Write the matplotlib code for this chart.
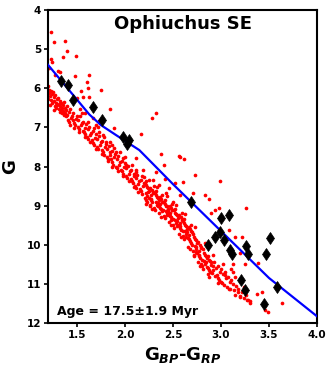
import matplotlib
matplotlib.use("Agg")
import matplotlib.pyplot as plt

# ---- red points: Gaia colour (BP-RP) and G magnitude ----
red_x = [
    1.205, 1.21, 1.215, 1.22, 1.205, 1.23, 1.235, 1.24, 1.245, 1.225,
    1.255, 1.26, 1.265, 1.27, 1.275, 1.28, 1.285, 1.29, 1.295, 1.26,
    1.305, 1.31, 1.315, 1.32, 1.325, 1.33, 1.335, 1.34, 1.345, 1.35,
    1.355, 1.36, 1.365, 1.37, 1.375, 1.38, 1.385, 1.39, 1.395, 1.40,
    1.41, 1.415, 1.42, 1.43, 1.44, 1.45,
    1.46, 1.465, 1.47, 1.48, 1.49, 1.50,
    1.51, 1.515, 1.52, 1.53, 1.54, 1.55,
    1.56, 1.565, 1.57, 1.58, 1.59, 1.60,
    1.61, 1.615, 1.62, 1.63, 1.64, 1.65,
    1.66, 1.665, 1.67, 1.68, 1.69, 1.70,
    1.71, 1.715, 1.72, 1.73, 1.74, 1.75,
    1.76, 1.765, 1.77, 1.78, 1.79, 1.80,
    1.81, 1.815, 1.82, 1.83, 1.84, 1.85,
    1.86, 1.865, 1.87, 1.88, 1.89, 1.90,
    1.91, 1.915, 1.92, 1.93, 1.94, 1.95,
    1.96, 1.965, 1.97, 1.98, 1.99, 2.00,
    2.01, 2.015, 2.02, 2.03, 2.04, 2.05,
    2.06, 2.065, 2.07, 2.08, 2.09, 2.10,
    2.11, 2.115, 2.12, 2.13, 2.14, 2.15,
    2.16, 2.165, 2.17, 2.18, 2.19, 2.20,
    2.205, 2.21, 2.215, 2.22, 2.225, 2.23, 2.235, 2.24, 2.245, 2.25, 2.23, 2.215,
    2.255, 2.26, 2.265, 2.27, 2.275, 2.28, 2.285, 2.29, 2.295, 2.30, 2.27, 2.26,
    2.305, 2.31, 2.315, 2.32, 2.325, 2.33, 2.335, 2.34, 2.345, 2.35, 2.32, 2.34,
    2.355, 2.36, 2.365, 2.37, 2.375, 2.38, 2.385, 2.39, 2.395, 2.40, 2.37, 2.39,
    2.405, 2.41, 2.415, 2.42, 2.425, 2.43, 2.435, 2.44, 2.445, 2.45, 2.42, 2.44,
    2.455, 2.46, 2.465, 2.47, 2.475, 2.48, 2.485, 2.49, 2.495, 2.50, 2.47, 2.49,
    2.505, 2.51, 2.515, 2.52, 2.525, 2.53, 2.535, 2.54, 2.545, 2.55, 2.52, 2.54,
    2.555, 2.56, 2.565, 2.57, 2.575, 2.58, 2.585, 2.59, 2.595, 2.60, 2.57, 2.59,
    2.605, 2.61, 2.615, 2.62, 2.625, 2.63, 2.635, 2.64, 2.645, 2.65, 2.62, 2.64,
    2.655, 2.66, 2.665, 2.67, 2.675, 2.68, 2.685, 2.69, 2.695, 2.70, 2.67, 2.69,
    2.705, 2.71, 2.715, 2.72, 2.725, 2.73, 2.735, 2.74, 2.745, 2.75, 2.72, 2.74,
    2.755, 2.76, 2.765, 2.77, 2.775, 2.78, 2.785, 2.79, 2.795, 2.80, 2.77, 2.79,
    2.805, 2.81, 2.815, 2.82, 2.825, 2.83, 2.835, 2.84, 2.845, 2.85,
    2.855, 2.86, 2.865, 2.87, 2.875, 2.88, 2.885, 2.89, 2.895, 2.90,
    2.91, 2.915, 2.92, 2.93, 2.94, 2.95,
    2.96, 2.965, 2.97, 2.98, 2.99, 3.00,
    3.01, 3.02, 3.03, 3.04, 3.05,
    3.06, 3.07, 3.08, 3.09, 3.10,
    3.12, 3.14, 3.16, 3.18, 3.20,
    3.22, 3.24, 3.26, 3.28, 3.30,
    # band edges
    1.43, 1.47, 1.52, 1.55, 1.58, 1.62, 1.64, 1.68, 1.70, 1.73,
    1.76, 1.78, 1.82, 1.84, 1.87, 1.89, 1.93, 1.95, 1.98, 2.00,
    2.04, 2.07, 2.09, 2.12, 2.14, 2.18, 2.22, 2.25, 2.28, 2.33,
    2.38, 2.44, 2.48, 2.53, 2.58, 2.63, 2.68, 2.73, 2.78, 2.83,
    2.88, 2.92, 2.97, 3.02,
    # scattered stars above the band
    1.23, 1.266, 1.377, 1.394, 1.353, 1.49, 1.23, 1.24, 1.21, 1.30,
    1.325, 1.276, 1.485, 1.63, 1.61, 1.62, 1.75, 1.54, 1.56, 1.50,
    1.63, 1.84, 1.53, 1.58, 2.32, 2.28, 2.17, 1.89, 1.73, 1.72,
    2.38, 2.12, 2.41, 2.57, 2.52, 2.568, 2.617, 2.73, 2.60, 2.99,
    2.42, 2.325, 2.714, 2.88, 2.835, 3.26, 2.90, 2.94, 2.975, 3.08,
    3.15, 3.22, 3.27, 3.20, 3.39, 3.25, 3.13, 3.10, 3.12, 3.15,
    3.20, 3.235, 3.095, 3.18, 3.15, 3.20, 3.27, 3.30, 3.38, 3.43,
    3.46, 3.485, 3.63, 3.00, 3.04,
    1.665, 1.70, 1.77, 1.80, 1.87, 1.91, 1.98, 2.01, 2.117, 2.186,
    2.20, 2.29, 2.36, 2.46, 2.43, 2.50, 2.57,
]
red_g = [
    5.95, 6.05, 6.12, 6.20, 6.28, 6.08, 6.30, 6.15, 6.38, 6.42,
    6.10, 6.22, 6.33, 6.45, 6.18, 6.38, 6.50, 6.28, 6.42, 6.55,
    6.25, 6.40, 6.52, 6.33, 6.60, 6.45, 6.55, 6.38, 6.62, 6.50,
    6.42, 6.58, 6.68, 6.35, 6.50, 6.62, 6.72, 6.55, 6.45, 6.68,
    6.80, 6.60, 6.85, 6.52, 6.75, 6.70,
    6.82, 6.62, 6.90, 6.95, 6.78, 6.70,
    7.00, 6.80, 7.05, 6.72, 6.95, 6.88,
    7.08, 6.85, 7.12, 7.18, 7.02, 6.92,
    7.25, 7.05, 7.30, 6.98, 7.20, 7.15,
    7.33, 7.10, 7.40, 7.45, 7.28, 7.18,
    7.50, 7.30, 7.55, 7.22, 7.45, 7.38,
    7.58, 7.35, 7.62, 7.70, 7.50, 7.42,
    7.75, 7.55, 7.80, 7.48, 7.70, 7.62,
    7.82, 7.60, 7.88, 7.95, 7.75, 7.68,
    8.00, 7.80, 8.05, 7.72, 7.95, 7.88,
    8.08, 7.85, 8.12, 8.18, 8.00, 7.92,
    8.25, 8.05, 8.30, 7.98, 8.20, 8.12,
    8.32, 8.10, 8.38, 8.42, 8.25, 8.18,
    8.50, 8.30, 8.55, 8.22, 8.45, 8.38,
    8.58, 8.35, 8.62, 8.70, 8.50, 8.42,
    8.80, 8.42, 8.85, 8.48, 8.68, 8.52, 8.75, 8.55, 8.66, 8.62, 8.90, 8.38,
    8.80, 8.98, 8.55, 8.82, 8.86, 8.60, 8.92, 8.65, 8.68, 8.50, 8.74, 9.02,
    9.05, 8.68, 9.10, 8.72, 8.92, 8.78, 8.98, 8.80, 8.94, 8.86, 8.62, 9.00,
    9.02, 9.20, 8.78, 9.05, 9.08, 8.84, 9.15, 8.90, 8.90, 9.12, 8.96, 8.72,
    9.26, 8.90, 9.32, 8.96, 9.14, 9.00, 9.20, 9.02, 9.15, 9.08, 8.85, 9.25,
    9.25, 9.42, 9.00, 9.26, 9.30, 9.05, 9.38, 9.10, 9.12, 9.35, 9.18, 8.95,
    9.50, 9.12, 9.58, 9.18, 9.38, 9.22, 9.45, 9.25, 9.40, 9.32, 9.08, 9.52,
    9.50, 9.72, 9.25, 9.52, 9.58, 9.30, 9.62, 9.35, 9.38, 9.66, 9.45, 9.20,
    9.78, 9.40, 9.86, 9.45, 9.65, 9.50, 9.72, 9.52, 9.68, 9.60, 9.35, 9.80,
    9.82, 10.05, 9.55, 9.85, 9.90, 9.60, 9.95, 9.65, 9.68, 10.00, 9.75, 9.50,
    10.15, 9.72, 10.25, 9.80, 10.02, 9.85, 10.10, 9.88, 10.05, 9.95, 10.28, 10.18,
    10.22, 10.45, 9.92, 10.25, 10.30, 10.00, 10.35, 10.05, 10.08, 10.38, 10.15, 10.48,
    10.55, 10.12, 10.62, 10.20, 10.42, 10.25, 10.50, 10.28, 10.45, 10.35,
    10.58, 10.75, 10.30, 10.60, 10.65, 10.38, 10.70, 10.42, 10.45, 10.52,
    10.72, 10.55, 10.65, 10.45, 10.80, 10.60,
    10.78, 10.55, 10.85, 10.90, 10.70, 10.62,
    10.98, 10.75, 11.02, 10.70, 10.85,
    11.08, 10.82, 11.12, 10.95, 10.90,
    11.00, 11.15, 11.05, 11.22, 11.30,
    11.20, 11.35, 11.28, 11.40, 11.45,
    # band edges
    6.95, 7.02, 7.12, 6.62, 7.25, 6.85, 7.38, 7.02, 7.55, 7.12,
    7.68, 7.25, 7.85, 7.38, 8.00, 7.52, 8.12, 7.62, 8.25, 7.75,
    8.38, 7.95, 8.52, 8.08, 8.65, 8.25, 8.95, 8.35, 9.08, 8.52,
    9.28, 8.75, 9.50, 8.98, 9.80, 9.22, 10.12, 9.55, 10.55, 9.95,
    10.82, 10.25, 10.98, 10.50,
    # scattered stars above the band
    4.57, 4.83, 4.79, 5.05, 5.21, 5.18, 5.24, 5.32, 5.49, 5.55,
    5.58, 5.66, 5.68, 5.65, 5.85, 6.00, 6.05, 6.07, 6.22, 6.26,
    6.22, 6.52, 6.52, 6.62, 6.62, 6.75, 7.17, 7.01, 6.84, 6.98,
    7.67, 7.79, 7.96, 7.75, 8.43, 7.73, 7.82, 8.22, 8.39, 8.37,
    8.33, 8.14, 8.67, 8.83, 8.73, 9.07, 9.18, 9.12, 9.07, 9.63,
    9.81, 9.80, 10.04, 10.22, 10.46, 10.48, 10.48, 10.61, 10.69, 10.82,
    10.90, 11.08, 11.12, 11.12, 11.29, 11.33, 11.42, 11.48, 11.26, 11.20,
    11.67, 11.72, 11.50, 10.95, 10.78,
    6.77, 6.94, 7.20, 7.37, 7.45, 7.62, 7.79, 7.96, 8.13, 8.09,
    8.26, 8.35, 8.48, 8.56, 8.69, 8.90, 8.73,
]

# ---- black diamonds ----
dia_x = [1.335, 1.41, 1.46, 1.67, 1.76, 1.98, 2.04, 2.02, 2.69, 3.00,
         3.08, 2.94, 2.99, 3.03, 2.87, 3.09, 3.11, 3.26, 3.28, 3.51,
         3.47, 3.21, 3.25, 3.58, 3.45]
dia_g = [5.82, 5.92, 6.29, 6.49, 6.80, 7.24, 7.32, 7.43, 8.90, 9.31,
         9.25, 9.80, 9.68, 9.87, 10.01, 10.14, 10.23, 10.04, 10.24, 9.84,
         10.24, 10.90, 11.15, 11.09, 11.52]

# ---- isochrone ----
iso_x = [1.196, 1.63, 1.75, 1.91, 2.15, 2.50, 3.00, 3.50, 4.00]
iso_g = [5.39, 6.67, 6.94, 7.20, 7.58, 8.45, 9.65, 10.85, 11.83]

title_text = "Ophiuchus SE"
age_text = "Age = 17.5\u00b11.9 Myr"
x_ticks = [1.5, 2.0, 2.5, 3.0, 3.5, 4.0]
y_ticks = [4, 5, 6, 7, 8, 9, 10, 11, 12]

plt.rcParams['font.family'] = ['DejaVu Sans']
plt.rcParams['mathtext.fontset'] = 'dejavusans'

fig = plt.figure(figsize=(3.32, 3.68), dpi=100)
ax = fig.add_axes([0.1446, 0.1223, 0.8104, 0.8505])

ax.scatter(red_x, red_g, s=7, color='red', linewidths=0, zorder=2)
ax.plot(iso_x, iso_g, color='blue', lw=1.6, zorder=3)
ax.plot(dia_x, dia_g, linestyle='none', marker='d', markersize=6.6,
        markeredgewidth=0.5, color='black', zorder=4)

ax.set_xlim(1.2, 4.0)
ax.set_ylim(12, 4)
ax.set_xticks(x_ticks)
ax.set_xticklabels([f"{v:.1f}" for v in x_ticks])
ax.set_yticks(y_ticks)
ax.set_yticklabels([str(v) for v in y_ticks])
ax.tick_params(axis='both', direction='out', length=3, width=1.2,
               labelsize=7.5, pad=2)
for lab in ax.get_xticklabels() + ax.get_yticklabels():
    lab.set_fontweight('bold')
for sp in ax.spines.values():
    sp.set_linewidth(1.5)

ax.set_ylabel("G", fontsize=13, fontweight='bold', labelpad=5)
ax.set_xlabel(r"G$_{\mathbfit{BP}}$-G$_{\mathbfit{RP}}$", fontsize=13,
              fontweight='bold', labelpad=4)

ax.text(0.5, 0.955, title_text, transform=ax.transAxes, ha='center',
        va='center', fontsize=13, fontweight='bold')
ax.text(0.033, 0.037, age_text, transform=ax.transAxes, ha='left',
        va='center', fontsize=9, fontweight='bold')

fig.savefig("out.png", dpi=100)
